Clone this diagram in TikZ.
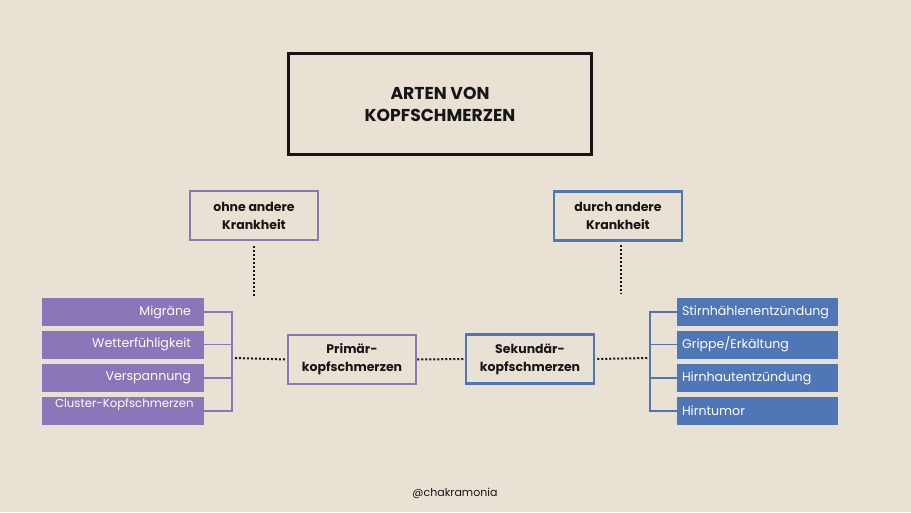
\documentclass[tikz,border=0pt]{standalone}
\usepackage{fontspec}
\setmainfont{Poppins}
\definecolor{beige}{HTML}{E9E1D3}
\definecolor{lila}{HTML}{8A76B8}
\definecolor{blau}{HTML}{4F76B6}
\definecolor{ink}{HTML}{161616}

\begin{document}
\begin{tikzpicture}[x=1pt,y=-1pt,
	titlebox/.style={draw=ink, line width=3pt, minimum width=303pt, minimum height=101pt, align=center, text=ink, font=\bfseries\fontsize{17.2}{22}\selectfont},
	catbox/.style={line width=2.5pt, minimum width=128pt, minimum height=49pt, align=center, text=ink, font=\bfseries\fontsize{12.5}{18}\selectfont},
	lilabar/.style={fill=lila, text=white, minimum height=28pt, text width=136pt, inner xsep=13pt, inner ysep=0pt, align=right, font=\fontsize{12.6}{16}\selectfont},
	blaubar/.style={fill=blau, text=white, minimum height=28pt, text width=151pt, inner xsep=5pt, inner ysep=0pt, align=left, font=\fontsize{12.6}{16}\selectfont},
	dotline/.style={ink, line width=2pt, dash pattern=on 2pt off 2pt}]
			%%%%% START %%%%%
			
			\path[fill=beige] (0, 0) rectangle (911, 512);
			
			\node[titlebox] (arten) at (440, 104) {ARTEN VON\\KOPFSCHMERZEN};
			
			\node[catbox, draw=lila] (ohne) at (254, 215.5) {ohne andere\\Krankheit};
			\node[catbox, draw=blau] (durch) at (618, 216) {durch andere\\Krankheit};
			
			\node[catbox, draw=lila] (prim) at (352, 359.5) {Primär-\\kopfschmerzen};
			\node[catbox, draw=blau] (sek) at (530, 359) {Sekundär-\\kopfschmerzen};
			
			\node[lilabar] (mig) at (123, 312) {Migräne};
			\node[lilabar] (wet) at (123, 344.5) {Wetterfühligkeit};
			\node[lilabar] (ver) at (123, 378) {Verspannung};
			\node[lilabar, text height=10pt, text depth=18pt, font=\fontsize{11.7}{14}\selectfont] (clu) at (123, 411) {\mbox{Cluster-Kopfschmerzen}};
			
			\node[blaubar] (stirn) at (757.5, 312) {Stirnhählenentzündung};
			\node[blaubar] (grippe) at (757.5, 344.5) {Grippe/Erkältung};
			\node[blaubar] (hirnhaut) at (757.5, 378) {Hirnhautentzündung};
			\node[blaubar] (tumor) at (757.5, 411) {Hirntumor};
			
			\coordinate (ohnefuss) at (254, 296);
			\coordinate (durchfuss) at (621, 293);
			\coordinate (lklammer) at (235, 358);
			\coordinate (rklammer) at (648, 358);
			
			\draw[dotline] ([yshift=-5pt]ohne.south) -- (ohnefuss);
			\draw[dotline] ([xshift=3pt, yshift=-3pt]durch.south) -- (durchfuss);
			\draw[dotline] (lklammer) -- (prim.west);
			\draw[dotline] (prim.east) -- (sek.west);
			\draw[dotline] ([xshift=2pt]sek.east) -- (rklammer);
			
			\draw[lila, line width=1.5pt] (mig.east) -- ++(28, 0) |- (clu.east);
			\draw[lila, line width=1.5pt] (wet.east) -- ++(28, 0);
			\draw[lila, line width=1.5pt] (ver.east) -- ++(28, 0);
			
			\draw[blau, line width=1.5pt] (stirn.west) -- ++(-27, 0) |- (tumor.west);
			\draw[blau, line width=1.5pt] (grippe.west) -- ++(-27, 0);
			\draw[blau, line width=1.5pt] (hirnhaut.west) -- ++(-27, 0);
			
			\node[text=ink, font=\fontsize{11}{13}\selectfont] (handle) at (455, 493) {@chakramonia};
			
			%%%%% END %%%%%
\end{tikzpicture}
\end{document}
